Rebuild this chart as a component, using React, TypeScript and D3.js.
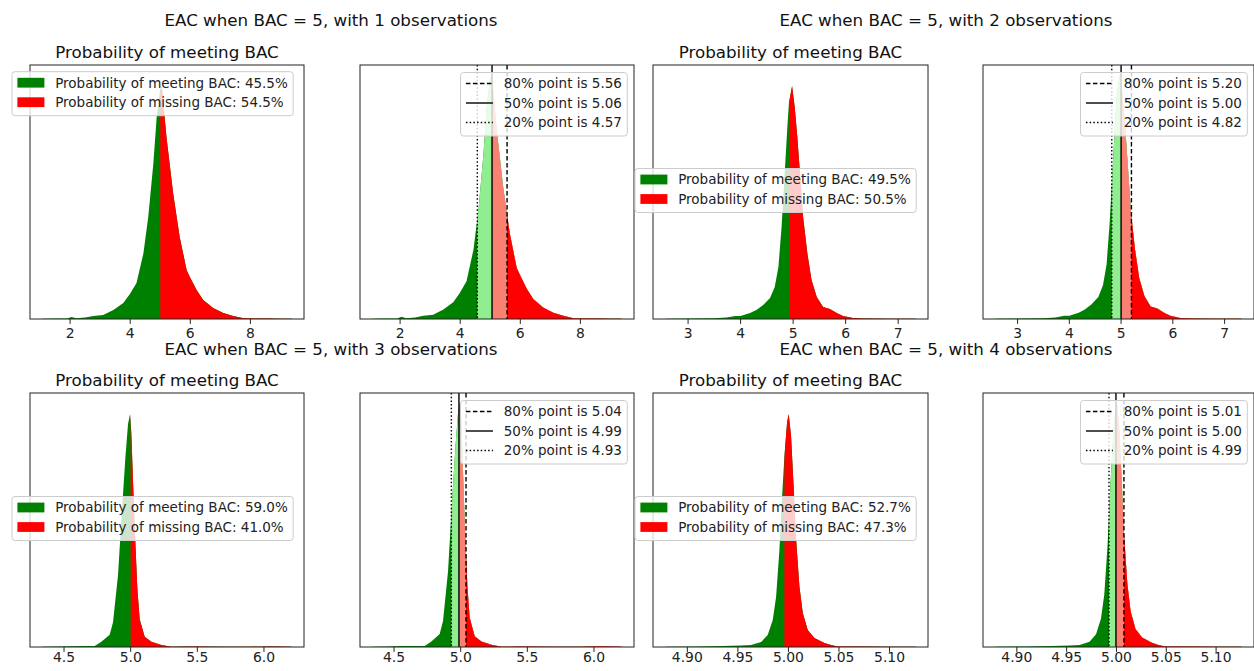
import React, { useEffect, useRef } from 'react';
import * as d3 from 'd3';

const BAC = 5;
const observations = [1, 2, 3, 4];

// EAC grid + estimated density, one pair of arrays per number of observations
const eac1 = [1.08, 1.5, 1.9, 2.05, 2.2, 2.5, 2.77, 3.1, 3.44, 3.77, 3.99, 4.21, 4.44, 4.6, 4.77, 4.88, 4.99, 5.05, 5.21, 5.43, 5.65, 5.88, 5.99, 6.21, 6.43, 6.76, 7.1, 7.43, 7.77, 8.1, 8.6, 9.0, 9.37];
const dens1 = [0.001, 0.002, 0.002, 0.008, 0.003, 0.006, 0.012, 0.016, 0.035, 0.062, 0.097, 0.14, 0.256, 0.396, 0.605, 0.784, 0.889, 0.908, 0.706, 0.489, 0.318, 0.19, 0.163, 0.113, 0.074, 0.043, 0.023, 0.012, 0.003, 0.002, 0.002, 0.001, 0.001];

const eac2 = [2.57, 3.0, 3.5, 3.73, 3.9, 4.0, 4.18, 4.3, 4.43, 4.56, 4.65, 4.72, 4.78, 4.84, 4.89, 4.92, 4.98, 5.03, 5.08, 5.13, 5.19, 5.27, 5.35, 5.45, 5.57, 5.7, 5.83, 5.95, 6.14, 6.33, 6.8, 7.33];
const dens2 = [0.002, 0.005, 0.007, 0.014, 0.028, 0.028, 0.056, 0.084, 0.131, 0.197, 0.3, 0.487, 0.862, 1.368, 1.799, 2.024, 2.183, 1.986, 1.705, 1.368, 0.956, 0.618, 0.365, 0.206, 0.112, 0.094, 0.056, 0.028, 0.009, 0.005, 0.003, 0.002];

const eac3 = [4.338, 4.45, 4.55, 4.655, 4.73, 4.78, 4.8425, 4.8675, 4.905, 4.935, 4.96, 4.98, 4.995, 5.0, 5.005, 5.03, 5.05, 5.0675, 5.105, 5.155, 5.23, 5.305, 5.45, 5.7, 5.9, 6.05, 6.207];
const dens3 = [0.007, 0.018, 0.029, 0.036, 0.036, 0.179, 0.428, 0.857, 2.5, 4.78, 6.57, 7.75, 8.1, 7.85, 7.39, 4.18, 2.03, 0.964, 0.357, 0.179, 0.071, 0.011, 0.014, 0.011, 0.011, 0.021, 0.007];

const eac4 = [4.8784, 4.91, 4.935, 4.9531, 4.963, 4.973, 4.9795, 4.9845, 4.9878, 4.9911, 4.9934, 4.996, 4.9987, 5.0003, 5.0026, 5.0053, 5.0076, 5.0109, 5.0142, 5.0191, 5.0257, 5.0356, 5.0422, 5.0488, 5.07, 5.1, 5.1257];
const dens4 = [0.06, 0.14, 0.29, 0.43, 0.57, 1.43, 3.43, 7.72, 14.3, 27.7, 41.2, 54.3, 64.1, 66.4, 60.1, 44.9, 30.6, 17.2, 9.72, 4.86, 2.57, 1.14, 0.57, 0.14, 0.11, 0.09, 0.06];

// where the green/red fill of the left panel switches
const splitX = [5.0, 4.924, 5.0, 4.996];
const meetPct = [45.5, 49.5, 59.0, 52.7];
const missPct = [54.5, 50.5, 41.0, 47.3];

const p80 = [5.56, 5.2, 5.04, 5.0075];
const p50 = [5.06, 5.0, 4.987, 4.9995];
const p20 = [4.57, 4.82, 4.93, 4.9925];

const ticks1 = [2, 4, 6, 8];
const ticks2 = [3, 4, 5, 6, 7];
const ticks3 = [4.5, 5.0, 5.5, 6.0];
const ticks4 = [4.9, 4.95, 5.0, 5.05, 5.1];
const tickFormats = ['d', 'd', '.1f', '.2f'];

const eacX = [eac1, eac2, eac3, eac4];
const eacDensity = [dens1, dens2, dens3, dens4];
const tickSets = [ticks1, ticks2, ticks3, ticks4];

// layout
const W = 1254;
const H = 671;
const FONT = "'DejaVu Sans', sans-serif";
const colLeft = [30, 360, 653, 983];
const colWidth = [274, 274, 275, 271];
const rowTop = [65, 393];
const PH = 254;
const suptitleX = [331, 946];
const suptitleY = [26, 355];
const tickLabelDy = [19, 15];
const leftLegendDy = [6.7, 103.5, 103.5, 103.5];
const LEFT_HEAD = 1.09;
const RIGHT_HEAD = 1.037;
const LEG_FS = 13.5;

type Entry = { label: string; fill?: string; dash?: string };

function drawLegend(svg: any, anchorX: number, top: number, entries: Entry[], alignRight: boolean) {
  const g = svg.append('g');
  const pad = 5.4;
  const handle = 27;
  const textPad = 10.8;
  const pitch = 19.5;
  const texts = entries.map((e, i) =>
    g.append('text')
      .attr('font-size', LEG_FS)
      .attr('fill', '#222')
      .attr('y', top + 11 + i * pitch + 4.8)
      .text(e.label)
  );
  const tw = d3.max(texts, (t: any) => t.node().getComputedTextLength()) as number;
  const width = pad + handle + textPad + tw + pad;
  const height = 24.5 + (entries.length - 1) * pitch;
  const x0 = alignRight ? anchorX - width : anchorX;
  g.insert('rect', ':first-child')
    .attr('x', x0).attr('y', top).attr('width', width).attr('height', height)
    .attr('rx', 3)
    .attr('fill', '#fff').attr('fill-opacity', 0.8)
    .attr('stroke', '#cccccc').attr('stroke-width', 1);
  entries.forEach((e, i) => {
    const cy = top + 11 + i * pitch;
    texts[i].attr('x', x0 + pad + handle + textPad);
    if (e.fill) {
      g.append('rect')
        .attr('x', x0 + pad).attr('y', cy - 4.9).attr('width', handle).attr('height', 9.8)
        .attr('fill', e.fill);
    } else {
      g.append('line')
        .attr('x1', x0 + pad).attr('x2', x0 + pad + handle)
        .attr('y1', cy).attr('y2', cy)
        .attr('stroke', '#000').attr('stroke-width', 1.4)
        .attr('stroke-dasharray', e.dash || null);
    }
  });
}

const App = () => {
  const svgRef = useRef<SVGSVGElement>(null);

  useEffect(() => {
    const svg = d3.select(svgRef.current);
    svg.selectAll('*').remove();
    svg.attr('font-family', FONT);

    svg.append('rect').attr('width', W).attr('height', H).attr('fill', '#fff');

    observations.forEach((obs, i) => {
      const xs = eacX[i];
      const ds = eacDensity[i];
      const pts = xs.map((v, k) => [v, ds[k]] as [number, number]);
      const [lo, hi] = d3.extent(xs) as [number, number];
      const m = (hi - lo) * 0.05;
      const row = Math.floor(i / 2);
      const pc = i % 2;
      const fmt = d3.format(tickFormats[i]);

      svg.append('text')
        .attr('x', suptitleX[pc]).attr('y', suptitleY[row])
        .attr('text-anchor', 'middle').attr('font-size', 16.7).attr('fill', '#111')
        .text(`EAC when BAC = ${BAC}, with ${obs} observations`);

      [0, 1].forEach(side => {
        const col = pc * 2 + side;
        const left = colLeft[col];
        const w = colWidth[col];
        const top = rowTop[row];
        const bottom = top + PH;
        const x = d3.scaleLinear().domain([lo - m, hi + m]).range([left, left + w]);
        const y = d3.scaleLinear()
          .domain([0, (d3.max(ds) as number) * (side === 0 ? LEFT_HEAD : RIGHT_HEAD)])
          .range([bottom, top]);
        const area = d3.area<[number, number]>()
          .x(p => x(p[0]))
          .y0(y(0))
          .y1(p => y(p[1]));

        // each band starts at its lower bound and runs to the right edge;
        // later bands paint over earlier ones, so no seams between fills
        const bands: [number, string][] = side === 0
          ? [[lo - m, 'green'], [splitX[i], 'red']]
          : [[lo - m, 'green'], [p20[i], 'lightgreen'], [p50[i], 'salmon'], [p80[i], 'red']];

        bands.forEach(([a, c], k) => {
          const id = `clip-${i}-${side}-${k}`;
          svg.append('clipPath').attr('id', id)
            .append('rect')
            .attr('x', x(a)).attr('y', top)
            .attr('width', left + w - x(a)).attr('height', PH);
          svg.append('path').datum(pts)
            .attr('d', area)
            .attr('fill', c)
            .attr('clip-path', `url(#${id})`);
        });

        if (side === 1) {
          const vlines: [number, string | null][] = [[p80[i], '4.5,2.5'], [p50[i], null], [p20[i], '1.5,2.2']];
          vlines.forEach(([v, dash]) => {
            svg.append('line')
              .attr('x1', x(v)).attr('x2', x(v))
              .attr('y1', top).attr('y2', bottom)
              .attr('stroke', '#000').attr('stroke-width', 1.4)
              .attr('stroke-dasharray', dash);
          });
        }

        // frame
        svg.append('rect')
          .attr('x', left).attr('y', top).attr('width', w).attr('height', PH)
          .attr('fill', 'none').attr('stroke', '#222').attr('stroke-width', 1);

        // x axis ticks
        tickSets[i].forEach(t => {
          svg.append('line')
            .attr('x1', x(t)).attr('x2', x(t))
            .attr('y1', bottom).attr('y2', bottom + 4.9)
            .attr('stroke', '#222').attr('stroke-width', 1);
          svg.append('text')
            .attr('x', x(t)).attr('y', bottom + tickLabelDy[row])
            .attr('text-anchor', 'middle').attr('font-size', 13.9).attr('fill', '#222')
            .text(fmt(t));
        });

        if (side === 0) {
          svg.append('text')
            .attr('x', left + w / 2).attr('y', top - 7)
            .attr('text-anchor', 'middle').attr('font-size', 16.7).attr('fill', '#111')
            .text('Probability of meeting BAC');
          drawLegend(svg, left - 18, top + leftLegendDy[i], [
            { label: `Probability of meeting BAC: ${meetPct[i].toFixed(1)}%`, fill: 'green' },
            { label: `Probability of missing BAC: ${missPct[i].toFixed(1)}%`, fill: 'red' },
          ], false);
        } else {
          drawLegend(svg, left + w - 6.7, top + 7.5, [
            { label: `80% point is ${p80[i].toFixed(2)}`, dash: '4.5,2.5' },
            { label: `50% point is ${p50[i].toFixed(2)}` },
            { label: `20% point is ${p20[i].toFixed(2)}`, dash: '1.5,2.2' },
          ], true);
        }
      });
    });
  }, []);

  return (
    <svg
      ref={svgRef}
      width={W}
      height={H}
      style={{ position: 'absolute', left: 0, top: 0 }}
      aria-label="EAC probability distributions"
    />
  );
};

export default App;
